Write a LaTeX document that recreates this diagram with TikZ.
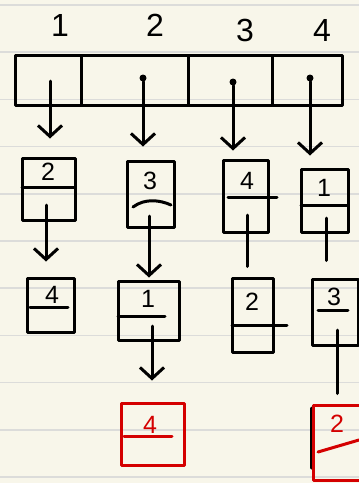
\documentclass[tikz,border=0pt]{standalone}
\usepackage{fontspec}
\setmainfont{Liberation Sans}
\usetikzlibrary{arrows.meta,calc}
\definecolor{paper}{HTML}{F8F6EA}
\definecolor{rule}{HTML}{DCDCDA}
\definecolor{redink}{HTML}{D40000}
\tikzset{
  ink/.style={line width=3pt, line cap=round, line join=round},
  box/.style={draw, ink, rectangle, inner sep=0pt},
  num/.style={font=\fontsize{25}{25}\selectfont, inner sep=0pt},
  head/.style={font=\fontsize{32}{32}\selectfont, inner sep=0pt},
  ptr/.style={ink, -{Straight Barb[length=11pt,width=24pt]}},
  tail/.style={ink},
  dotmark/.style={circle, fill=black, inner sep=0pt, minimum size=7pt},
}
\begin{document}
\begin{tikzpicture}[x=1pt,y=-1pt]
\useasboundingbox (0,0) rectangle (359,483);
\clip (0,0) rectangle (359,483);
\fill[paper] (0,0) rectangle (359,483);
\foreach \yy in {5,52.2,99.4,146.6,193.8,241,288.2,335.4,382.6,429.8,477}
  \draw[rule, line width=1.6pt] (0,\yy) -- (359,\yy);

% header labels
\node[head] (h1) at (60,25) {1};
\node[head] (h2) at (155,25) {2};
\node[head] (h3) at (245,30) {3};
\node[head] (h4) at (322,30) {4};

% array of heads
\node[box, minimum width=66pt, minimum height=50pt] (c1) at (48,80) {};
\node[box, minimum width=107pt, minimum height=50pt] (c2) at (134.5,80) {};
\node[box, minimum width=84pt, minimum height=50pt] (c3) at (230,80) {};
\node[box, minimum width=70pt, minimum height=50pt] (c4) at (307,80) {};
\coordinate (p1) at (50,81);
\node[dotmark] (p2) at (143,78) {};
\node[dotmark] (p3) at (233,82) {};
\node[dotmark] (p4) at (310,78) {};

% row 1
\node[box, minimum width=53pt, minimum height=62pt] (a1) at (48.5,189) {};
\node[num] (a1n) at (48,172) {2};
\draw[ink] (22,187) -- (75,187);
\node[box, minimum width=47pt, minimum height=66pt] (b1) at (150.5,194) {};
\node[num] (b1n) at (150,181) {3};
\draw[ink] (133,207) .. controls (145,198) and (160,200) .. (171,205);
\node[box, minimum width=45pt, minimum height=72pt] (e1) at (245.5,196) {};
\node[num] (e1n) at (247,181) {4};
\draw[ink] (228,197) -- (277,197);
\node[box, minimum width=47pt, minimum height=63pt] (f1) at (324.5,200.5) {};
\node[num] (f1n) at (324,188) {1};
\draw[ink] (301,205) -- (348,205);

% row 2
\node[box, minimum width=47pt, minimum height=54pt] (a2) at (50.5,305) {};
\node[num] (a2n) at (52,295) {4};
\draw[ink] (30,307) -- (68,307);
\node[box, minimum width=61pt, minimum height=59pt] (b2) at (148.5,310.5) {};
\node[num] (b2n) at (148,299) {1};
\draw[ink] (118,316) -- (165,316);
\node[box, minimum width=41pt, minimum height=74pt] (e2) at (252.5,315) {};
\node[num] (e2n) at (252,302) {2};
\draw[ink] (232,325) -- (287,325);
\node[box, minimum width=46pt, minimum height=66pt] (f2) at (335,312) {};
\node[num] (f2n) at (334,297) {3};
\draw[ink] (318,310) -- (348,310);

% row 3 (red)
\node[box, draw=redink, minimum width=63pt, minimum height=62pt] (b3) at (152.5,434) {};
\node[num, text=redink] (b3n) at (150,425) {4};
\draw[ink, redink] (124,436) -- (172,436);
\draw[ink] (311,408) -- (311,468);
\node[box, draw=redink, minimum width=52pt, minimum height=75pt] (f3) at (339,442.5) {};
\node[num, text=redink] (f3n) at (337,424) {2};
\draw[ink, redink] (318,452) -- (359,440);

% pointers from the head array
\draw[ptr, shorten >=18pt] (p1) -- (p1 |- a1.north);
\draw[ptr, shorten >=13pt] (p2) -- (p2 |- b1.north);
\draw[ptr, shorten >=8pt] (p3) -- (p3 |- e1.north);
\draw[ptr, shorten >=12pt] (p4) -- (p4 |- f1.north);

% next pointers
\coordinate (a1p) at (46,205);
\draw[ptr, shorten >=15pt] (a1p) -- (a1p |- a2.north);
\coordinate (b1p) at (149,216);
\draw[ptr, shorten >=2pt] (b1p) -- (b1p |- b2.north);
\coordinate (e1p) at (247,215);
\draw[tail, shorten >=10pt] (e1p) -- (e1p |- e2.north);
\coordinate (f1p) at (326,218);
\draw[tail, shorten >=17pt] (f1p) -- (f1p |- f2.north);
\coordinate (b2p) at (152,326);
\draw[ptr, shorten >=21pt] (b2p) -- (b2p |- b3.north);
\coordinate (f2p) at (337,330);
\draw[tail, shorten >=10pt] (f2p) -- (f2p |- f3.north);
\end{tikzpicture}
\end{document}
